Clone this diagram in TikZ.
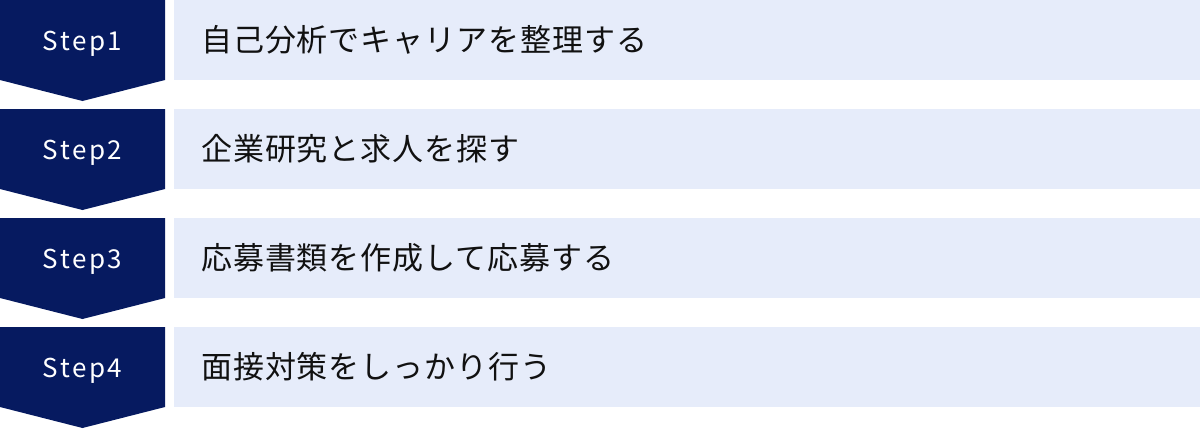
\documentclass[tikz,border=0pt]{standalone}
\usepackage{fontspec}
\setmainfont{Noto Sans CJK JP}
\definecolor{navy}{HTML}{061A60}
\definecolor{pale}{HTML}{E6ECFA}
\definecolor{ink}{HTML}{111111}
\begin{document}
\begin{tikzpicture}[x=1pt,y=-1pt,
  stepshape/.style={fill=navy,draw=none},
  panel/.style={fill=pale,draw=none},
  steplabel/.style={anchor=base,inner sep=0pt,text=white,font=\fontsize{26}{30}\selectfont\addfontfeature{LetterSpace=10}},
  tasklabel/.style={anchor=base west,inner sep=0pt,text=ink,font=\fontsize{31}{36}\selectfont\addfontfeature{LetterSpace=3}}]
\useasboundingbox (0,0) rectangle (1200,429);
\foreach \i/\lbl/\task in {0/1/自己分析でキャリアを整理する,1/2/企業研究と求人を探す,2/3/応募書類を作成して応募する,3/4/面接対策をしっかり行う}{
  \pgfmathsetmacro{\oy}{\i*109}
  \begin{scope}[yshift=-\oy pt]
    \fill[stepshape] (0,0) -- (165,0) -- (165,80) -- (82.5,101) -- (0,80) -- cycle;
    \fill[panel] (174,0) rectangle (1200,80);
    \node[steplabel] (s\lbl) at (82.5,50) {Step\lbl};
    \node[tasklabel] (t\lbl) at (201,51) {\task};
  \end{scope}
}
\end{tikzpicture}
\end{document}
